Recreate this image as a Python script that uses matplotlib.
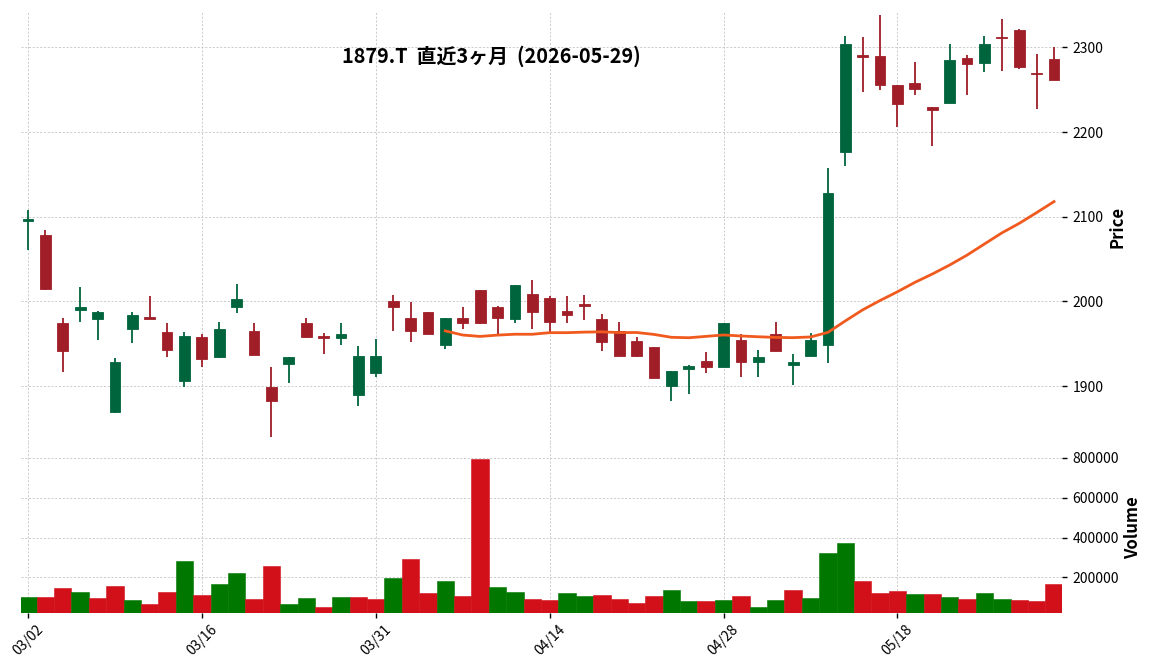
import numpy as np
import pandas as pd
import matplotlib
matplotlib.use("Agg")
import matplotlib.pyplot as plt

plt.rcParams['font.family'] = ['Noto Sans CJK JP', 'DejaVu Sans']

TITLE = "1879.T  直近3ヶ月  (2026-05-29)"

# trading days (TSE holidays removed)
HOLIDAYS = ['2026-03-20', '2026-04-29', '2026-05-04', '2026-05-05', '2026-05-06']
dates = pd.bdate_range('2026-03-02', '2026-05-29', freq='C', holidays=HOLIDAYS)

opens = [2095, 2078, 1975, 1990, 1979, 1869, 1967, 1982, 1964, 1906,
         1958, 1934, 1994, 1965, 1899, 1926, 1974, 1959, 1957, 1890,
         1915, 2000, 1980, 1987, 1949, 1980, 2013, 1993, 1979, 2009,
         2004, 1989, 1997, 1979, 1965, 1953, 1946, 1900, 1920, 1930,
         1923, 1954, 1928, 1961, 1925, 1936, 1949, 2177, 2291, 2290,
         2256, 2258, 2230, 2234, 2288, 2282, 2312, 2320, 2270, 2286]
highs = [2108, 2084, 1981, 2017, 1989, 1933, 1987, 2006, 1974, 1964,
         1962, 1976, 2021, 1975, 1923, 1934, 1980, 1963, 1974, 1947,
         1956, 2008, 1999, 1988, 1981, 1993, 2014, 1995, 2019, 2025,
         2006, 2006, 2008, 1985, 1976, 1958, 1946, 1918, 1925, 1940,
         1975, 1961, 1943, 1976, 1938, 1963, 2158, 2314, 2312, 2338,
         2256, 2283, 2230, 2304, 2291, 2314, 2334, 2322, 2292, 2301]
lows = [2061, 2014, 1917, 1976, 1954, 1868, 1951, 1979, 1934, 1899,
        1922, 1933, 1986, 1937, 1840, 1904, 1957, 1938, 1948, 1876,
        1911, 1965, 1952, 1962, 1944, 1968, 1973, 1962, 1975, 1968,
        1964, 1974, 1978, 1942, 1935, 1934, 1909, 1882, 1891, 1916,
        1923, 1911, 1911, 1942, 1901, 1935, 1927, 2160, 2247, 2250,
        2206, 2244, 2184, 2234, 2244, 2271, 2272, 2275, 2227, 2261]
closes = [2097, 2015, 1941, 1993, 1988, 1929, 1984, 1979, 1943, 1959,
          1932, 1967, 2003, 1937, 1882, 1934, 1958, 1957, 1961, 1936,
          1935, 1993, 1965, 1962, 1980, 1975, 1974, 1980, 2019, 1987,
          1976, 1984, 1995, 1952, 1936, 1935, 1910, 1918, 1924, 1923,
          1975, 1928, 1934, 1942, 1929, 1955, 2128, 2304, 2289, 2256,
          2233, 2251, 2226, 2285, 2280, 2304, 2311, 2277, 2269, 2262]
volumes = [102000, 102000, 147000, 127000, 97000, 157000, 87000, 67000, 127000, 282000,
           112000, 167000, 222000, 92000, 257000, 67000, 97000, 52000, 102000, 102000,
           92000, 197000, 292000, 122000, 182000, 107000, 797000, 152000, 127000, 92000,
           87000, 122000, 108000, 113000, 93000, 73000, 108000, 138000, 83000, 83000,
           88000, 108000, 53000, 88000, 138000, 98000, 324000, 374000, 183000, 123000,
           133000, 118000, 118000, 103000, 93000, 123000, 93000, 88000, 83000, 168000]

MAV = 25

UP, DOWN = '#00643c', '#a01e28'
VUP, VDOWN = '#007800', '#d2101a'
MA_COLOR = '#f05a1e'

df = pd.DataFrame({'Open': opens, 'High': highs, 'Low': lows,
                   'Close': closes, 'Volume': volumes}, index=dates)
x = np.arange(len(df))
o, h, l, c = df.Open.values, df.High.values, df.Low.values, df.Close.values
v = df.Volume.values

up = c >= o
ccol = np.where(up, UP, DOWN)
prev = np.concatenate([[o[0]], c[:-1]])
vcol = np.where(c >= prev, VUP, VDOWN)

W, H = 1152, 670
fig = plt.figure(figsize=(W / 100, H / 100), dpi=100)
left, width = 21 / W, 1041 / W
ax = fig.add_axes([left, 228 / H, width, 431 / H])
axv = fig.add_axes([left, 57.3 / H, width, 170.7 / H], sharex=ax)

for a in (ax, axv):
    for s in a.spines.values():
        s.set_visible(False)
    a.set_axisbelow(True)
    a.grid(True, linestyle=(0, (2.5, 2)), linewidth=0.6, color='#c4c4c4')
    a.yaxis.tick_right()
    a.yaxis.set_label_position('right')
    a.tick_params(axis='y', direction='out', length=3.5, width=1, labelsize=10, pad=4)

# candles
ax.vlines(x, l, h, colors=ccol, linewidth=1.3, zorder=2)
ax.bar(x, np.abs(c - o), bottom=np.minimum(o, c), width=0.62,
       color=ccol, edgecolor=ccol, linewidth=0.6, zorder=3)
ma = df.Close.rolling(MAV).mean()
ax.plot(x, ma.values, color=MA_COLOR, linewidth=2, zorder=4)

ax.set_ylim(1834, 2343)
ax.set_yticks([1900, 2000, 2100, 2200, 2300])
ax.set_ylabel('Price', fontsize=12, fontweight='bold', labelpad=4)
ax.tick_params(axis='x', length=0, labelbottom=False)

# volume
axv.bar(x, v, width=1.0, color=vcol, edgecolor=vcol, linewidth=0.4)
axv.set_ylim(23000, 880000)
axv.set_yticks([200000, 400000, 600000, 800000])
axv.yaxis.set_major_formatter(plt.FuncFormatter(lambda y, p: f"{int(y)}"))
axv.set_ylabel('Volume', fontsize=12, fontweight='bold', labelpad=4)

ticks = list(range(0, len(df), 10))
axv.set_xticks(ticks)
axv.set_xticklabels([dates[i].strftime('%m/%d') for i in ticks], rotation=45)
axv.tick_params(axis='x', direction='out', length=3.5, width=1, labelsize=10)
axv.set_xlim(-0.40, len(df) - 1 + 0.46)

fig.text(491 / W, 1 - 56 / H, TITLE, ha='center', va='center',
         fontsize=14.3, fontweight='bold')

fig.savefig('out.png', dpi=100)
